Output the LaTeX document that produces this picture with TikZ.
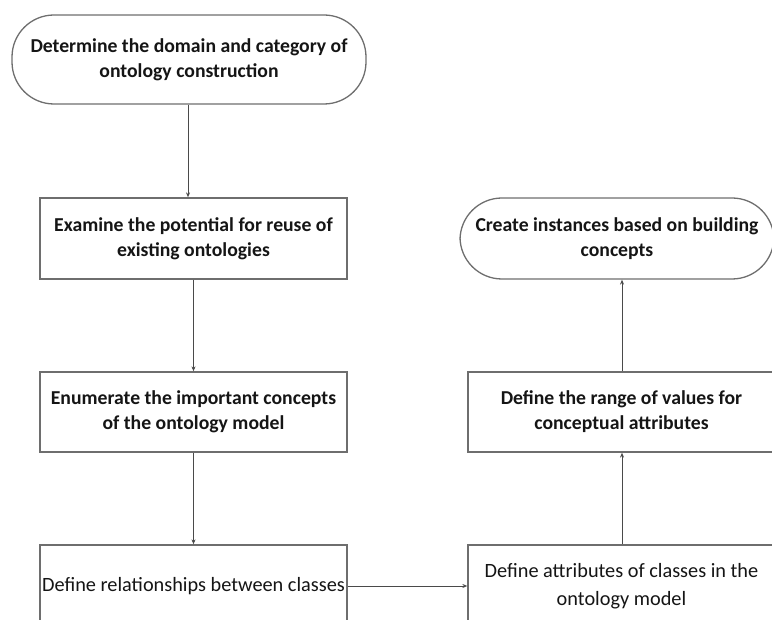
\documentclass[tikz,border=0pt]{standalone}
\usepackage{fontspec}
\setmainfont{Carlito}
\usetikzlibrary{arrows.meta}
\definecolor{edge}{HTML}{6E6E6E}
\definecolor{conn}{HTML}{4A4A4A}
\definecolor{ink}{HTML}{151515}
\tikzset{
  boxbase/.style={draw=edge, line width=1.3pt, fill=white, text=ink, align=center, inner sep=0pt},
  procbox/.style={boxbase, rectangle, minimum width=307pt, font=\fontsize{19.7}{25}\selectfont\bfseries},
  plainbox/.style={boxbase, rectangle, minimum width=307pt, font=\fontsize{20.3}{28}\selectfont},
  termbox/.style={boxbase, rectangle, rounded corners=42pt, font=\fontsize{19.7}{25}\selectfont\bfseries},
  conline/.style={draw=conn, line width=0.9pt, -{Stealth[length=5pt,width=4pt]}}
}
\begin{document}
\begin{tikzpicture}[x=1pt,y=-1pt]
\useasboundingbox (0,0) rectangle (772,620);
\clip (0,0) rectangle (772,620);
\node[termbox, minimum width=354pt, minimum height=89pt] (start) at (189,59.5)
  {Determine the domain and category of\\ontology construction};
\node[procbox, minimum height=81pt] (reuse) at (193.5,238.5)
  {Examine the potential for reuse of\\existing ontologies};
\node[procbox, minimum height=80pt] (enum) at (193.5,412)
  {Enumerate the important concepts\\of the ontology model};
\node[plainbox, minimum height=82pt] (rel) at (193.5,586)
  {Define relationships between classes};
\node[plainbox, minimum height=82pt] (attr) at (621.5,586)
  {Define attributes of classes in the\\ontology model};
\node[procbox, minimum height=80pt] (range) at (621.5,412)
  {Define the range of values for\\conceptual attributes};
\node[termbox, minimum width=314pt, minimum height=81pt] (end) at (617,238.5)
  {Create instances based on building\\concepts};
\draw[conline] (start.south -| 188,0) -- (reuse.north -| 188,0);
\draw[conline] (reuse) -- (enum);
\draw[conline] (enum) -- (rel);
\draw[conline] (rel) -- (attr);
\draw[conline] (attr.north -| 622,0) -- (range.south -| 622,0);
\draw[conline] (range.north -| 622,0) -- (end.south -| 622,0);
\end{tikzpicture}
\end{document}
